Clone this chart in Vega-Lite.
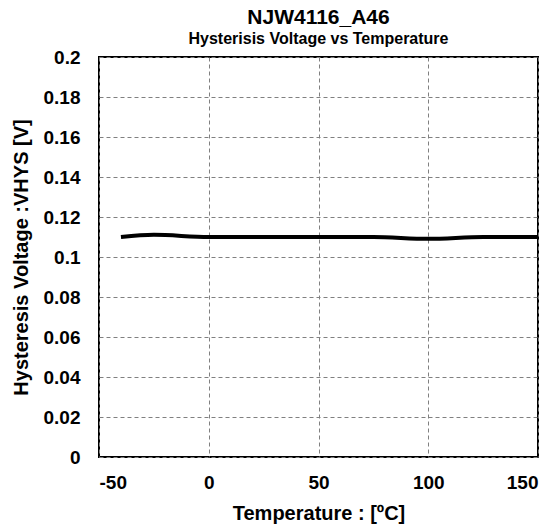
{
  "$schema": "https://vega.github.io/schema/vega-lite/v6.json",
  "autosize": "none",
  "width": 439,
  "height": 400,
  "padding": {"left": 99, "top": 57, "right": 20, "bottom": 70},
  "background": "white",
  "title": {
    "text": "NJW4116_A46",
    "subtitle": "Hysterisis Voltage vs Temperature",
    "anchor": "middle",
    "font": "Liberation Sans",
    "fontSize": 21,
    "fontWeight": "bold",
    "color": "black",
    "subtitleFont": "Liberation Sans",
    "subtitleFontSize": 16,
    "subtitleFontWeight": "bold",
    "subtitleColor": "black",
    "subtitlePadding": 3,
    "offset": 1
  },
  "config": {
    "view": {"stroke": "black", "strokeWidth": 2},
    "axis": {
      "labelFont": "Liberation Sans",
      "labelFontSize": 19,
      "labelFontWeight": "bold",
      "labelColor": "black",
      "titleFont": "Liberation Sans",
      "titleFontSize": 20,
      "titleFontWeight": "bold",
      "titleColor": "black",
      "domain": false,
      "ticks": false,
      "grid": true,
      "gridColor": "#808080",
      "gridDash": [4, 3],
      "gridWidth": 1
    }
  },
  "data": {
    "values": [
      {"temp": -40, "v": 0.110},
      {"temp": -25, "v": 0.1111},
      {"temp": 0, "v": 0.1100},
      {"temp": 25, "v": 0.1100},
      {"temp": 50, "v": 0.1100},
      {"temp": 75, "v": 0.1100},
      {"temp": 100, "v": 0.1091},
      {"temp": 125, "v": 0.1100},
      {"temp": 150, "v": 0.1100}
    ]
  },
  "mark": {"type": "line", "color": "black", "strokeWidth": 4, "interpolate": "monotone", "clip": true},
  "encoding": {
    "x": {
      "field": "temp",
      "type": "quantitative",
      "scale": {"domain": [-50, 150], "nice": false, "zero": false},
      "axis": {"values": [-50, 0, 50, 100, 150], "title": "Temperature : [ºC]", "labelPadding": 16, "titlePadding": 11, "labelExpr": "datum.value + ''"}
    },
    "y": {
      "field": "v",
      "type": "quantitative",
      "scale": {"domain": [0, 0.2], "nice": false},
      "axis": {"values": [0, 0.02, 0.04, 0.06, 0.08, 0.1, 0.12, 0.14, 0.16, 0.18, 0.2], "title": "Hysteresis Voltage :VHYS [V]", "labelPadding": 19, "titlePadding": 12, "labelExpr": "datum.value == 0 ? '0' : format(datum.value, '.2~f')"}
    }
  }
}
